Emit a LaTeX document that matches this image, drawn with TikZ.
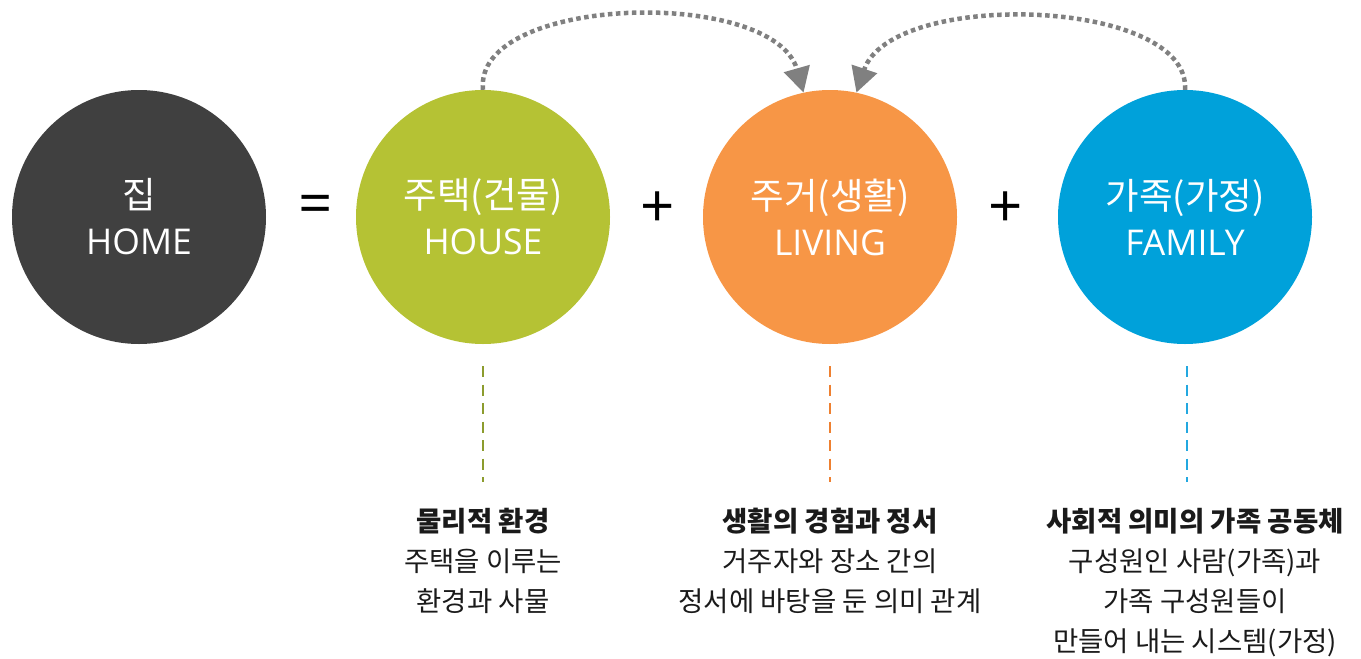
\documentclass[tikz,border=0pt]{standalone}
\usepackage{fontspec}
\setmainfont{Open Sans}
\newfontfamily\kr{Noto Sans CJK KR}
\usetikzlibrary{arrows.meta}
\definecolor{cdark}{HTML}{404040}
\definecolor{cgreen}{HTML}{B5C234}
\definecolor{corange}{HTML}{F79646}
\definecolor{cblue}{HTML}{00A1DA}
\definecolor{dgreen}{HTML}{8C9C2E}
\definecolor{dorange}{HTML}{EE8030}
\definecolor{dblue}{HTML}{23A8E0}
\definecolor{cgray}{HTML}{808080}
\definecolor{ctext}{HTML}{1A1A1A}
\tikzset{
  bigcircle/.style={circle, minimum size=254pt, inner sep=0pt, text=white, align=center,
    font=\fontsize{35.5}{46}\selectfont},
  sign/.style={font=\fontsize{60}{60}\selectfont, text=black, inner sep=0pt},
  vdash/.style={line width=2.5pt, dash pattern=on 11pt off 7.5pt},
  loopline/.style={draw=cgray, line width=4.5pt, dash pattern=on 4.5pt off 3.5pt,
    -{Triangle[length=25pt,width=26pt]}},
  desc/.style={align=center, inner sep=0pt, text=ctext, anchor=north,
    font=\kr\fontsize{27.5}{40}\selectfont}
}
\begin{document}
\begin{tikzpicture}[x=1pt,y=-1pt]
\useasboundingbox (0,0) rectangle (1361,659);
\node[bigcircle, fill=cdark] (home) at (139,217) {{\kr\fontsize{36.5}{46}\selectfont 집}\\HOME};
\node[bigcircle, fill=cgreen] (house) at (483,217) {{\kr\fontsize{36.5}{46}\selectfont 주택(건물)}\\HOUSE};
\node[bigcircle, fill=corange] (living) at (830,217) {{\kr\fontsize{36.5}{46}\selectfont 주거(생활)}\\LIVING};
\node[bigcircle, fill=cblue] (family) at (1185,217) {{\kr\fontsize{36.5}{46}\selectfont 가족(가정)}\\FAMILY};
\node[sign] (eq) at (316,210) {=};
\node[sign] (plus1) at (658,210) {+};
\node[sign] (plus2) at (1006,210) {+};
% dashed lines
\coordinate (h1) at (483,366); \coordinate (h2) at (483,482);
\coordinate (l1) at (830,366); \coordinate (l2) at (830,482);
\coordinate (f1) at (1187,366); \coordinate (f2) at (1187,482);
\draw[vdash, draw=dgreen] (h1) -- (h2);
\draw[vdash, draw=dorange] (l1) -- (l2);
\draw[vdash, draw=dblue] (f1) -- (f2);
% curved arrows
\draw[loopline] (house.north) .. controls +(-10,-95) and +(-30,-106) .. (living.102);
\draw[loopline] (family.north) .. controls +(6,-92) and +(35,-104) .. (living.78);
% descriptions
\node[desc] (dh) at (483,508) {{\bfseries 물리적 환경}\\주택을 이루는\\환경과 사물};
\node[desc] (dl) at (830,508) {{\bfseries 생활의 경험과 정서}\\거주자와 장소 간의\\정서에 바탕을 둔 의미 관계};
\node[desc] (df) at (1195,508) {{\bfseries 사회적 의미의 가족 공동체}\\구성원인 사람(가족)과\\가족 구성원들이\\만들어 내는 시스템(가정)};
\end{tikzpicture}
\end{document}
